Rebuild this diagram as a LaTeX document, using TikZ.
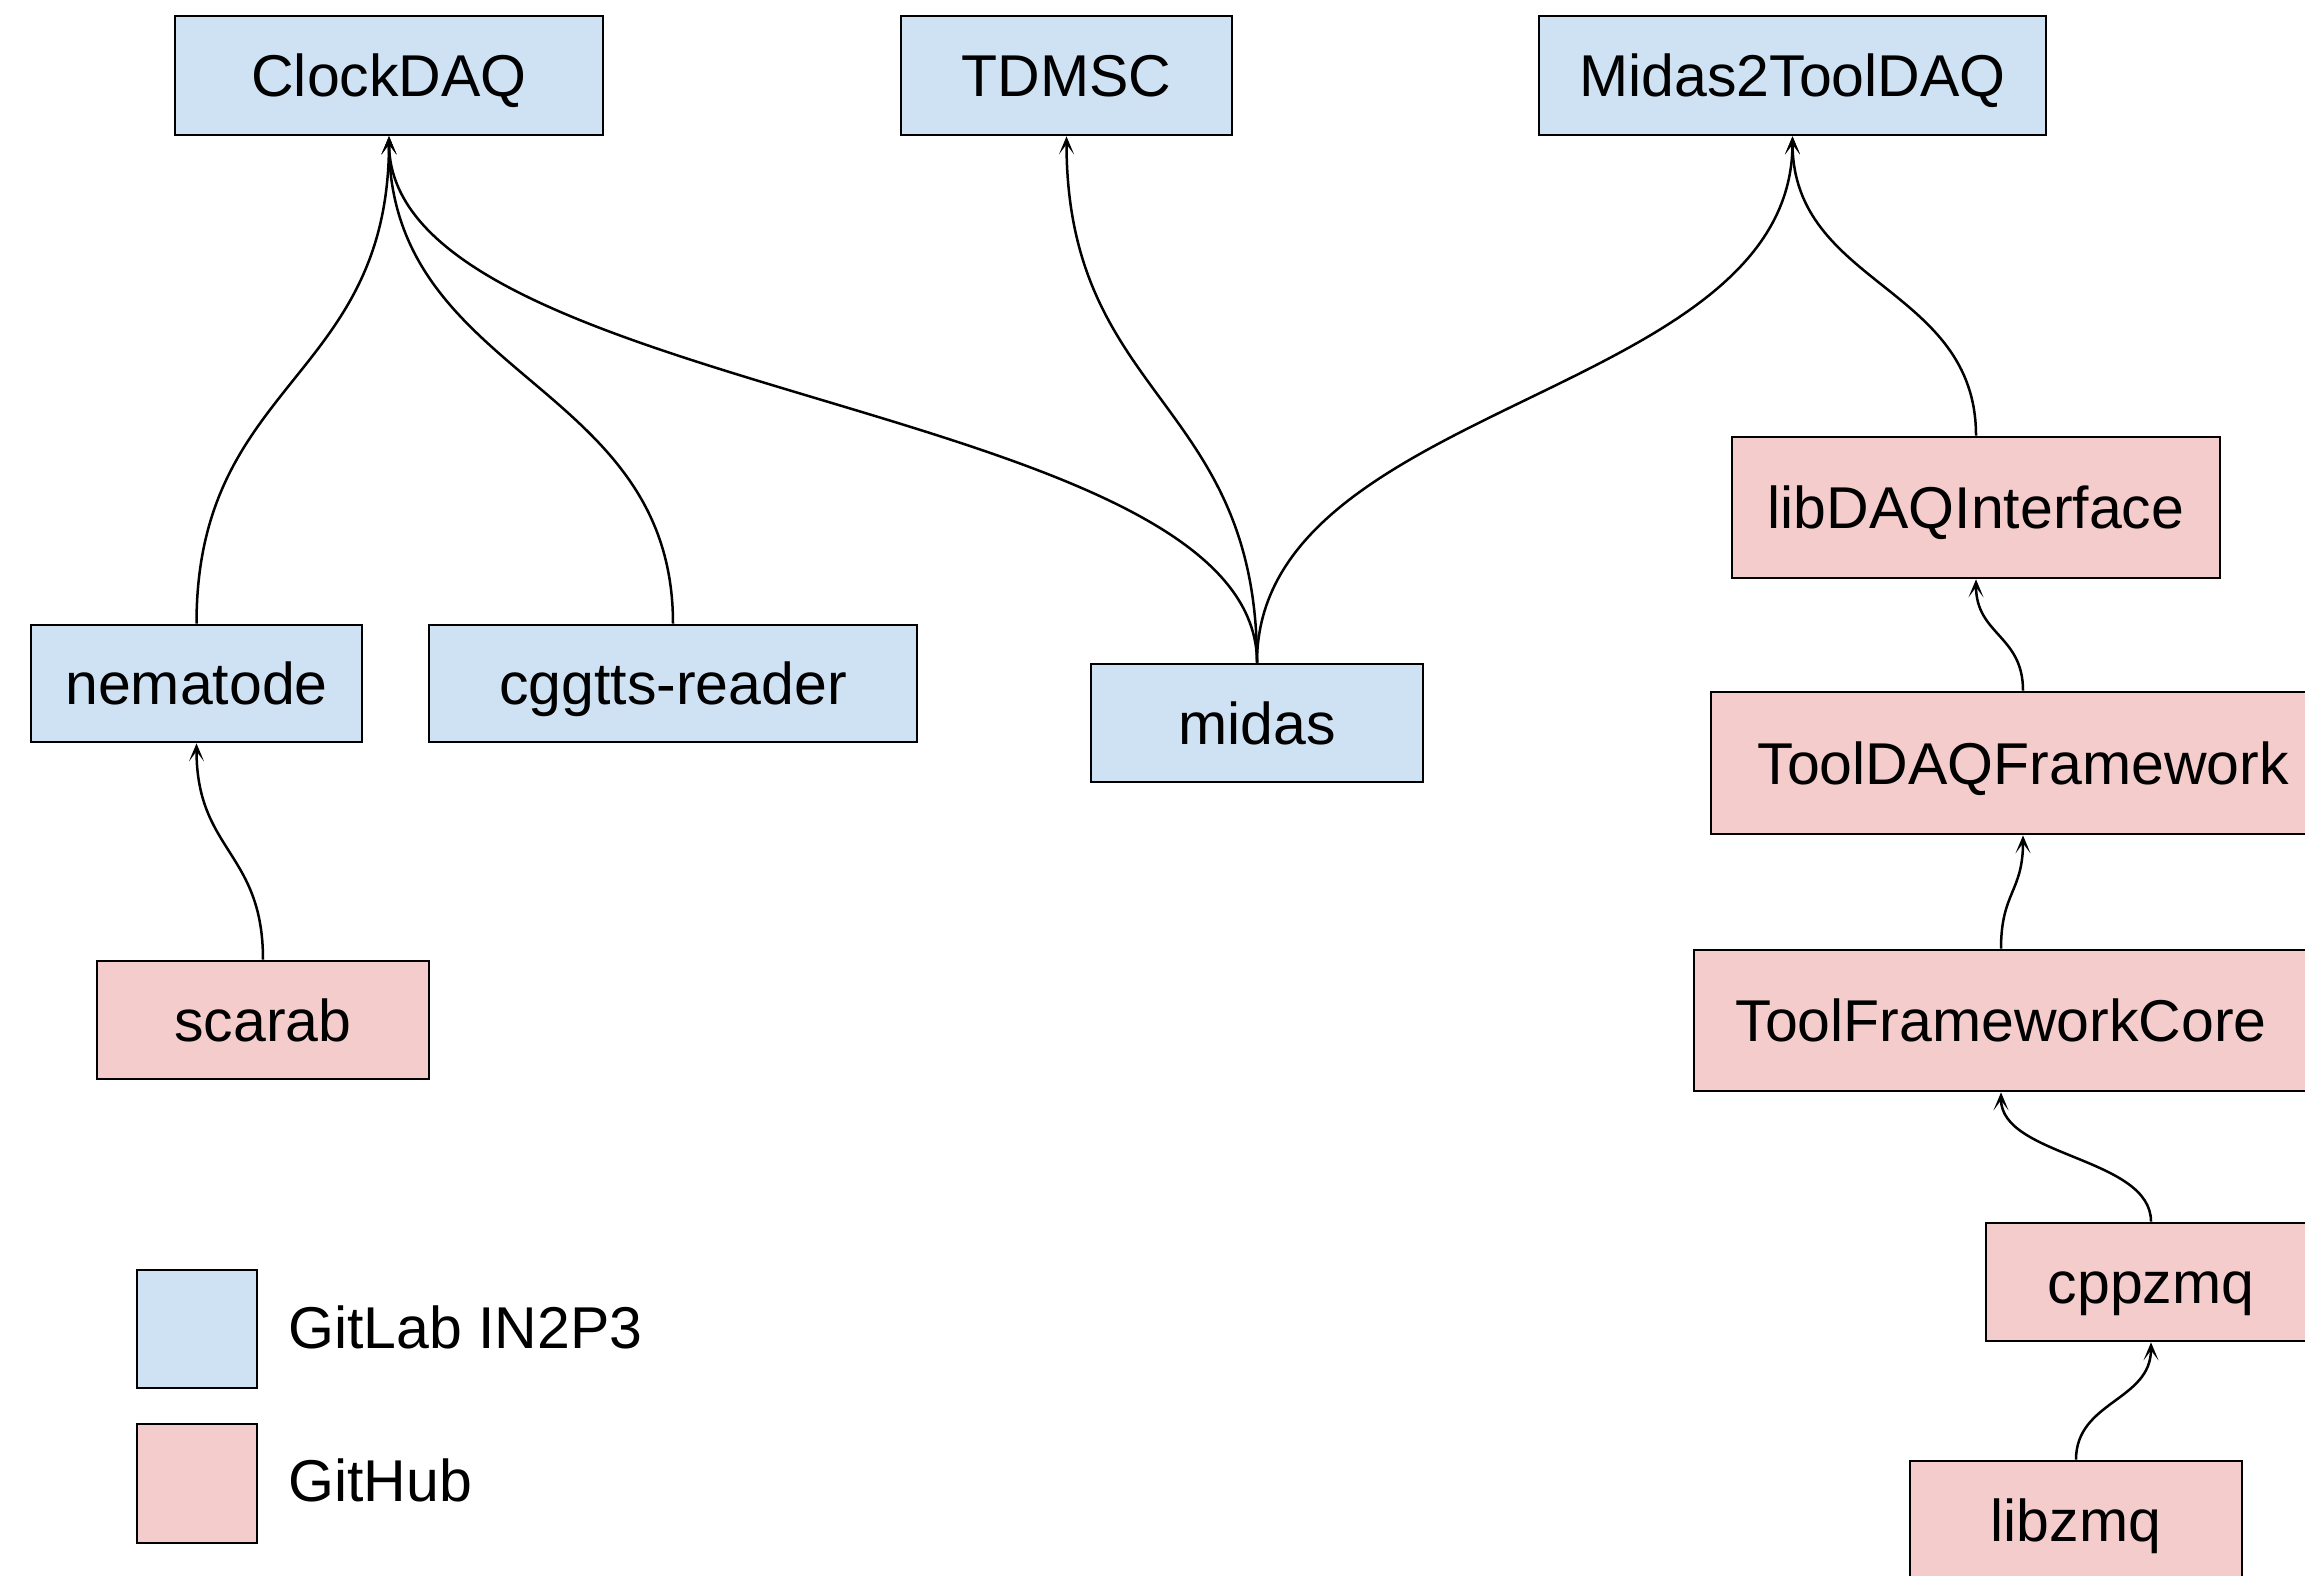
\documentclass[tikz,border=0pt]{standalone}
\usepackage{fontspec}
\setmainfont{Liberation Sans}
\usetikzlibrary{calc,arrows.meta}
\definecolor{gl}{HTML}{CFE2F3}
\definecolor{gh}{HTML}{F4CCCC}
\tikzset{
  box/.style={draw=black, line width=2.7pt, inner sep=0pt, text height=42pt, text depth=0pt, font=\fontsize{59}{70}\selectfont},
  blu/.style={box, fill=gl},
  pnk/.style={box, fill=gh},
  dep/.style={line width=2.5pt, -{Stealth[length=18pt,width=15pt,inset=10pt]}},
  legtext/.style={anchor=west, inner sep=0pt, text height=42pt, text depth=0pt, font=\fontsize{59}{70}\selectfont}
}
% \bx{name}{style}{x1}{x2}{y1}{y2}{text}
\newcommand\bx[7]{\node[#2, minimum width={#4-#3}, minimum height={#6-#5}] (#1) at ({(#3+#4)/2},{(#5+#6)/2}) {#7};}
\newcommand\conn[2]{\draw[dep] let \p1=(#1.north), \p2=(#2.south) in (\p1) .. controls (\x1,{0.5*\y1+0.5*\y2}) and (\x2,{0.5*\y1+0.5*\y2}) .. (\p2);}
\begin{document}
\begin{tikzpicture}[x=1pt,y=-1pt]
\path[use as bounding box, clip] (0,0) rectangle (2305,1576);
\fill[white] (0,0) rectangle (2305,1576);
\bx{clock}{blu}{175}{603}{16}{135}{ClockDAQ}
\bx{tdmsc}{blu}{901}{1232}{16}{135}{TDMSC}
\bx{m2t}{blu}{1539}{2046}{16}{135}{Midas2ToolDAQ}
\bx{nema}{blu}{31}{362}{625}{742}{nematode}
\bx{cgg}{blu}{429}{917}{625}{742}{cggtts-reader}
\bx{midas}{blu}{1091}{1423}{664}{782}{midas}
\bx{scarab}{pnk}{97}{429}{961}{1079}{scarab}
\bx{libdaq}{pnk}{1732}{2220}{437}{578}{libDAQInterface}
\bx{tdf}{pnk}{1711}{2335}{692}{834}{ToolDAQFramework}
\bx{tfc}{pnk}{1694}{2308}{950}{1091}{ToolFrameworkCore}
\bx{cpp}{pnk}{1986}{2316}{1223}{1341}{cppzmq}
\bx{libzmq}{pnk}{1910}{2242}{1461}{1579}{libzmq}
\bx{legb}{blu}{137}{257}{1270}{1388}{}
\bx{legp}{pnk}{137}{257}{1424}{1543}{}
\node[legtext] (legbt) at (288,1327) {GitLab IN2P3};
\node[legtext] (legpt) at (288,1480) {GitHub};
\conn{nema}{clock}
\conn{cgg}{clock}
\conn{midas}{clock}
\conn{midas}{tdmsc}
\conn{midas}{m2t}
\conn{libdaq}{m2t}
\conn{scarab}{nema}
\conn{tdf}{libdaq}
\conn{tfc}{tdf}
\conn{cpp}{tfc}
\conn{libzmq}{cpp}
\end{tikzpicture}
\end{document}
